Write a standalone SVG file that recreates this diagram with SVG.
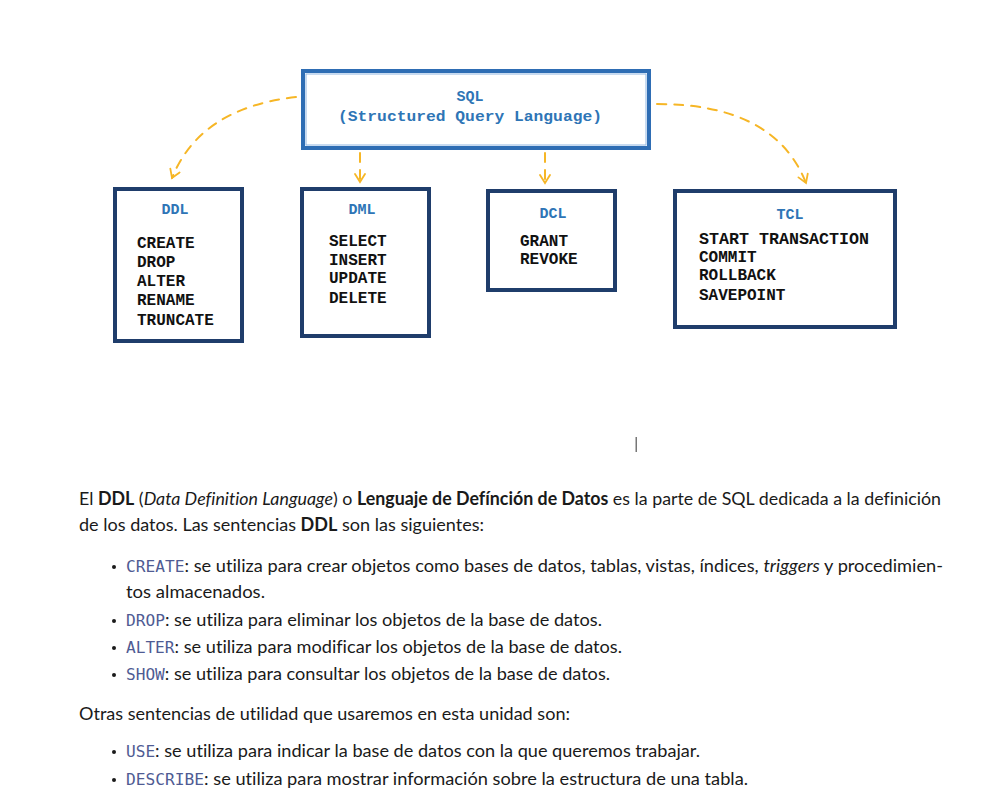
<svg xmlns="http://www.w3.org/2000/svg" width="999" height="811" viewBox="0 0 999 811">
<style>
.box{fill:#fff;stroke:#1f3d6b;stroke-width:4}
.sql{fill:#fff;stroke:#2e6db4;stroke-width:4}
.sqlin{fill:none;stroke:#8fb6e2;stroke-width:1}
.mono{font-family:"Liberation Mono","Courier New",monospace;font-weight:bold;font-size:16px;fill:#111}
.ttl{font-family:"Liberation Mono","Courier New",monospace;font-weight:bold;font-size:15px;fill:#2e75b6}
.con{fill:none;stroke:#f6b626;stroke-width:2;stroke-dasharray:9 8;stroke-linecap:round}
.body{font-family:Lato,"Noto Sans",sans-serif;font-size:18px;fill:#1a1a1a;font-variant-ligatures:none}
.code{font-family:"DejaVu Sans Mono","Liberation Mono",monospace;font-size:16px;fill:#4f5b93}
.b{font-weight:bold}
.i{font-style:italic}
</style>
<defs>
<marker id="ah" viewBox="0 0 12 12" refX="10" refY="6" markerWidth="12" markerHeight="12" markerUnits="userSpaceOnUse" orient="auto">
<path d="M2,1 L10,6 L2,11" fill="none" stroke="#f6b626" stroke-width="1.8" stroke-linecap="round"/>
</marker>
</defs>
<rect width="999" height="811" fill="#fff"/>

<g id="connectors">
<path class="con" d="M296,97 Q200,108 172,178" marker-end="url(#ah)"/>
<path class="con" d="M657,104 Q775,104 806,183" marker-end="url(#ah)"/>
<path class="con" d="M360,153 L360,182" stroke-dasharray="6 5" stroke-width="1.5" marker-end="url(#ah)"/>
<path class="con" d="M545,153 L545,183" stroke-dasharray="6 5" stroke-width="1.5" marker-end="url(#ah)"/>
</g>

<g id="sql">
<rect class="sql" x="303" y="71" width="346" height="77"/>
<rect class="sqlin" x="306" y="74" width="340" height="71"/>
<text class="ttl" x="470" y="101" text-anchor="middle">SQL</text>
<text class="ttl" x="470" y="121" text-anchor="middle" textLength="264" lengthAdjust="spacingAndGlyphs">(Structured Query Language)</text>
</g>

<g id="ddl">
<rect class="box" x="115" y="189" width="127" height="152"/>
<text class="ttl" x="175" y="214" text-anchor="middle">DDL</text>
<text class="mono" x="137" y="248">CREATE</text>
<text class="mono" x="137" y="267">DROP</text>
<text class="mono" x="137" y="286">ALTER</text>
<text class="mono" x="137" y="305">RENAME</text>
<text class="mono" x="137" y="325">TRUNCATE</text>
</g>

<g id="dml">
<rect class="box" x="302" y="189" width="127" height="147"/>
<text class="ttl" x="362" y="214" text-anchor="middle">DML</text>
<text class="mono" x="329" y="246">SELECT</text>
<text class="mono" x="329" y="265">INSERT</text>
<text class="mono" x="329" y="283">UPDATE</text>
<text class="mono" x="329" y="303">DELETE</text>
</g>

<g id="dcl">
<rect class="box" x="488" y="191" width="127" height="99"/>
<text class="ttl" x="553" y="218" text-anchor="middle">DCL</text>
<text class="mono" x="520" y="246">GRANT</text>
<text class="mono" x="520" y="264">REVOKE</text>
</g>

<g id="tcl">
<rect class="box" x="675" y="191" width="220" height="136"/>
<text class="ttl" x="790" y="219" text-anchor="middle">TCL</text>
<text class="mono" x="699" y="244" textLength="170" lengthAdjust="spacingAndGlyphs">START TRANSACTION</text>
<text class="mono" x="699" y="262">COMMIT</text>
<text class="mono" x="699" y="280">ROLLBACK</text>
<text class="mono" x="699" y="300">SAVEPOINT</text>
</g>

<rect x="635.5" y="437" width="1.5" height="15" fill="#777"/>

<g id="texto">
<text class="body" x="79" y="505" textLength="862" lengthAdjust="spacingAndGlyphs">El <tspan class="b">DDL</tspan> (<tspan class="i">Data Definition Language</tspan>) o <tspan class="b">Lenguaje de Defínción de Datos</tspan> es la parte de SQL dedicada a la definición</text>
<text class="body" x="79" y="531" textLength="405" lengthAdjust="spacingAndGlyphs">de los datos. Las sentencias <tspan class="b">DDL</tspan> son las siguientes:</text>

<circle cx="114" cy="567" r="2" fill="#1a1a1a"/>
<text class="body" x="126" y="572" textLength="817" lengthAdjust="spacingAndGlyphs"><tspan class="code">CREATE</tspan>: se utiliza para crear objetos como bases de datos, tablas, vistas, índices, <tspan class="i">triggers</tspan> y procedimien-</text>
<text class="body" x="126" y="598" textLength="139" lengthAdjust="spacingAndGlyphs">tos almacenados.</text>

<circle cx="114" cy="621" r="2" fill="#1a1a1a"/>
<text class="body" x="126" y="626" textLength="476" lengthAdjust="spacingAndGlyphs"><tspan class="code">DROP</tspan>: se utiliza para eliminar los objetos de la base de datos.</text>
<circle cx="114" cy="648" r="2" fill="#1a1a1a"/>
<text class="body" x="126" y="653" textLength="496" lengthAdjust="spacingAndGlyphs"><tspan class="code">ALTER</tspan>: se utiliza para modificar los objetos de la base de datos.</text>
<circle cx="114" cy="675" r="2" fill="#1a1a1a"/>
<text class="body" x="126" y="680" textLength="484" lengthAdjust="spacingAndGlyphs"><tspan class="code">SHOW</tspan>: se utiliza para consultar los objetos de la base de datos.</text>

<text class="body" x="79" y="720" textLength="491" lengthAdjust="spacingAndGlyphs">Otras sentencias de utilidad que usaremos en esta unidad son:</text>

<circle cx="114" cy="752" r="2" fill="#1a1a1a"/>
<text class="body" x="126" y="757" textLength="574" lengthAdjust="spacingAndGlyphs"><tspan class="code">USE</tspan>: se utiliza para indicar la base de datos con la que queremos trabajar.</text>
<circle cx="114" cy="780" r="2" fill="#1a1a1a"/>
<text class="body" x="126" y="785" textLength="622" lengthAdjust="spacingAndGlyphs"><tspan class="code">DESCRIBE</tspan>: se utiliza para mostrar información sobre la estructura de una tabla.</text>
</g>
</svg>
